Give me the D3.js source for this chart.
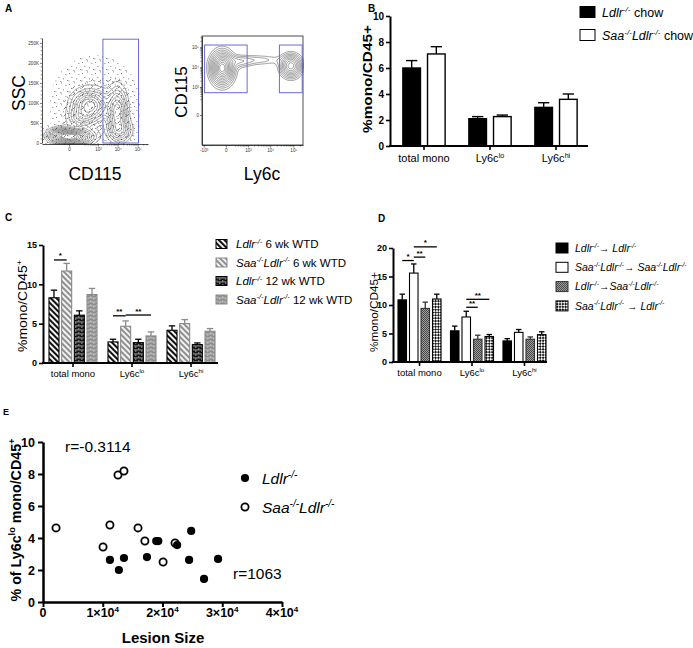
<!DOCTYPE html>
<html><head><meta charset="utf-8">
<script src="https://cdn.jsdelivr.net/npm/d3@7"></script>
<style>
body{margin:0;background:#fff}
svg{display:block;font-family:"Liberation Sans",Arial,Helvetica,sans-serif}
text{white-space:pre}
</style>
</head><body>
<svg id="fig" width="693" height="648"></svg>
<script>
// ---------------- DATA ----------------
const categories = ["total mono", "Ly6c^{lo}", "Ly6c^{hi}"];

// Panel B
const bSeries = ["~Ldlr^{-/-}~ chow", "~Saa^{-/-}Ldlr^{-/-}~ chow"];
const bLdlrMean = [6.0, 2.1, 2.97];
const bLdlrSem  = [0.57, 0.16, 0.36];
const bSaaMean  = [7.08, 2.26, 3.59];
const bSaaSem   = [0.56, 0.12, 0.41];
const bTicks = [0, 2, 4, 6, 8, 10];

// Panel C
const cSeries = ["~Ldlr^{-/-}~ 6 wk WTD", "~Saa^{-/-}Ldlr^{-/-}~ 6 wk WTD", "~Ldlr^{-/-}~ 12 wk WTD", "~Saa^{-/-}Ldlr^{-/-}~ 12 wk WTD"];
const cLdlr6Mean  = [8.29, 2.68, 4.16];
const cLdlr6Sem   = [0.97, 0.34, 0.56];
const cSaa6Mean   = [11.69, 4.67, 5.01];
const cSaa6Sem    = [0.97, 0.68, 0.51];
const cLdlr12Mean = [6.08, 2.59, 2.34];
const cLdlr12Sem  = [0.55, 0.43, 0.21];
const cSaa12Mean  = [8.71, 3.44, 4.04];
const cSaa12Sem   = [0.77, 0.51, 0.34];
const cTicks = [0, 5, 10, 15];
const cSigs = [
  {cat: 0, a: 0, b: 1, y: 13.1, label: "*"},
  {cat: 1, a: 0, b: 1, y: 6.0, label: "**"},
  {cat: 1, a: 1, b: 3, y: 6.1, label: "**"}
];

// Panel D
const dSeries = ["~Ldlr^{-/-}\u2192 Ldlr^{-/-}~", "~Saa^{-/-}Ldlr^{-/-}\u2192 Saa^{-/-}Ldlr^{-/-}~", "~Ldlr^{-/-}\u2192Saa^{-/-}Ldlr^{-/-}~", "~Saa^{-/-}Ldlr^{-/-} \u2192 Ldlr^{-/-}~"];
const dS1Mean = [10.9, 5.47, 3.7];
const dS1Sem  = [1.0, 0.83, 0.4];
const dS2Mean = [15.6, 7.9, 5.2];
const dS2Sem  = [1.6, 1.0, 0.5];
const dS3Mean = [9.4, 4.0, 4.0];
const dS3Sem  = [1.1, 0.7, 0.4];
const dS4Mean = [11.05, 4.47, 4.8];
const dS4Sem  = [0.85, 0.35, 0.5];
const dTicks = [0, 5, 10, 15, 20];
const dSigs = [
  {cat: 0, a: 0, b: 1, y: 17.8, label: "*"},
  {cat: 0, a: 1, b: 2, y: 18.4, label: "**"},
  {cat: 0, a: 1, b: 3, y: 20.2, label: "*"},
  {cat: 1, a: 1, b: 2, y: 9.6, label: "**"},
  {cat: 1, a: 1, b: 3, y: 11.0, label: "**"}
];

// Panel E (lesion size vs % Ly6c-lo)
const eLdlrX = [11200, 12700, 13550, 17400, 18950, 19300, 22450, 24450, 24800, 26950, 29300];
const eLdlrY = [2.63, 2.0, 2.75, 2.81, 3.81, 3.81, 3.56, 2.63, 4.44, 1.44, 2.69];
const eSaaX  = [2180, 10050, 11200, 12550, 13550, 15900, 17050, 20100, 22100];
const eSaaY  = [4.63, 3.44, 4.81, 7.94, 8.19, 4.63, 3.81, 2.5, 3.69];
const eXTicks = [0, 10000, 20000, 30000, 40000];
const eYTicks = [0, 2, 4, 6, 8, 10];
const eLegend = ["~Ldlr^{-/-}~", "~Saa^{-/-}Ldlr^{-/-}~"];
const eR = ["r=-0.3114", "r=1063"];

// Panel A (flow cytometry: population clusters in plot-unit coordinates)
const flowLeftClusters = [
  {u: 0.283, v: 0.068, su: 0.10, sv: 0.042, w: 1.0},
  {u: 0.16,  v: 0.085, su: 0.06, sv: 0.035, w: 0.35},
  {u: 0.45,  v: 0.36,  su: 0.085, sv: 0.075, w: 0.58},
  {u: 0.37,  v: 0.25,  su: 0.07, sv: 0.05, w: 0.22},
  {u: 0.71,  v: 0.30,  su: 0.05, sv: 0.12, w: 0.5},
  {u: 0.74,  v: 0.13,  su: 0.06, sv: 0.06, w: 0.28},
  {u: 0.50,  v: 0.38,  su: 0.30, sv: 0.32, w: 0.05}
];
const flowRightClusters = [
  {u: 0.20, v: 0.705, su: 0.065, sv: 0.085, w: 1.0},
  {u: 0.88, v: 0.725, su: 0.06, sv: 0.06, w: 0.72},
  {u: 0.53, v: 0.78,  su: 0.18, sv: 0.03, w: 0.13},
  {u: 0.37, v: 0.76,  su: 0.08, sv: 0.035, w: 0.13}
];
const flowLevels = [0.06, 0.1, 0.15, 0.21, 0.28, 0.36, 0.45, 0.55, 0.65, 0.75, 0.85, 0.93];
const sscTicks = [0, 50000, 100000, 150000, 200000, 250000];
const cd115Ticks = [0, 1000, 10000, 100000];
const ly6cTicks = [-1000, 0, 1000, 10000, 100000];
const cd115RTicks = [0, 1000, 10000, 100000];

// ---------------- HELPERS ----------------
const svg = d3.select("#fig");
const FONT = '"Liberation Sans",Arial,Helvetica,sans-serif';

// markup: ^{..} superscript, ~ toggles italic
function rich(text, str, fs) {
  const parts = str.split(/(\^\{[^}]*\}|~)/).filter(s => s.length);
  let shifted = false, ital = false;
  parts.forEach(p => {
    if (p === "~") { ital = !ital; return; }
    const sup = p.startsWith("^{");
    const t = sup ? p.slice(2, -1) : p;
    const ts = text.append("tspan").text(t).attr("font-style", ital ? "italic" : "normal");
    if (sup) {
      ts.attr("font-size", fs * 0.65);
      if (!shifted) ts.attr("dy", -fs * 0.4);
      shifted = true;
    } else {
      ts.attr("font-size", fs);
      if (shifted) { ts.attr("dy", fs * 0.4); shifted = false; }
    }
  });
  return text;
}
function supFmt(v) {
  if (v === 0) return "0";
  const e = Math.round(Math.log10(Math.abs(v)));
  const s = {3: "\u00b3", 4: "\u2074", 5: "\u2075"}[e];
  return (v < 0 ? "-" : "") + "10" + s;
}

// ---------------- PATTERNS ----------------
const defs = svg.append("defs");
function stripe(id, bg, fg, w) {
  const p = defs.append("pattern").attr("id", id).attr("patternUnits", "userSpaceOnUse")
    .attr("width", 4).attr("height", 4).attr("patternTransform", "rotate(-45)");
  p.append("rect").attr("width", 4).attr("height", 4).attr("fill", bg);
  p.append("rect").attr("width", w).attr("height", 4).attr("fill", fg);
}
stripe("stripeDark", "#fff", "#111", 2.1);
stripe("stripeGray", "#f2f2f2", "#8a8a8a", 1.9);
function brick(id, bg, fg) {
  const p = defs.append("pattern").attr("id", id).attr("patternUnits", "userSpaceOnUse")
    .attr("width", 6).attr("height", 4);
  p.append("rect").attr("width", 6).attr("height", 4).attr("fill", bg);
  p.append("rect").attr("x", 0).attr("y", 1.6).attr("width", 6).attr("height", 0.7).attr("fill", fg);
  p.append("rect").attr("x", 0.5).attr("y", 0).attr("width", 0.7).attr("height", 1.6).attr("fill", fg);
  p.append("rect").attr("x", 3.5).attr("y", 2.3).attr("width", 0.7).attr("height", 1.7).attr("fill", fg);
}
brick("brickDark", "#141414", "#cfcfcf");
brick("brickGray", "#8c8c8c", "#d8d8d8");
function stipple(id, w, h, pts) {
  const s = defs.append("pattern").attr("id", id).attr("patternUnits", "userSpaceOnUse")
    .attr("width", w).attr("height", h);
  pts.forEach(([px, py]) =>
    s.append("rect").attr("x", px).attr("y", py).attr("width", 0.8).attr("height", 0.8).attr("fill", "#222"));
}
(function () {
  const p = defs.append("pattern").attr("id", "fineGray").attr("patternUnits", "userSpaceOnUse")
    .attr("width", 2).attr("height", 2);
  p.append("rect").attr("width", 2).attr("height", 2).attr("fill", "#9a9a9a");
  p.append("rect").attr("width", 1).attr("height", 1).attr("fill", "#4a4a4a");
  p.append("rect").attr("x", 1).attr("y", 1).attr("width", 1).attr("height", 1).attr("fill", "#4a4a4a");
  const q = defs.append("pattern").attr("id", "checker").attr("patternUnits", "userSpaceOnUse")
    .attr("width", 4).attr("height", 4).attr("patternTransform", "rotate(45)");
  q.append("rect").attr("width", 4).attr("height", 4).attr("fill", "#fff");
  q.append("rect").attr("width", 2).attr("height", 2).attr("fill", "#111");
  q.append("rect").attr("x", 2).attr("y", 2).attr("width", 2).attr("height", 2).attr("fill", "#111");
})();
stipple("stippleA", 13, 11, [[1, 2], [6, 0.5], [10.5, 3], [3.5, 6], [8, 7.5], [12, 9], [0.5, 9.5], [5.5, 10]]);
stipple("stippleB", 9, 7, [[2.5, 1.2], [7, 2.8], [0.8, 4.6], [5, 5.9], [4, 0.2]]);

// ---------------- PANEL LETTERS ----------------
[["A", 5, 12, 10], ["B", 368, 12, 10], ["C", 5, 221, 10], ["D", 378, 222, 10], ["E", 3, 415, 9]]
  .forEach(([t, x, y, fs]) => svg.append("text").attr("x", x).attr("y", y).attr("font-size", fs)
    .attr("font-weight", "bold").text(t));

// ---------------- BAR PANEL ----------------
function barPanel(o) {
  const g = svg.append("g");
  const x0 = d3.scaleBand().domain(categories).range(o.xRange).paddingInner(o.pi).paddingOuter(o.po);
  const x1 = d3.scaleBand().domain(o.series).range([0, x0.bandwidth()]).paddingInner(o.pi1).paddingOuter(o.po1);
  const y = d3.scaleLinear().domain(o.yDomain).range(o.yRange);
  o.series.forEach((s, si) => {
    const means = o.means[si], sems = o.sems[si];
    categories.forEach((c, ci) => {
      const bx = x0(c) + x1(s), bw = x1.bandwidth(), cx = bx + bw / 2;
      const top = y(means[ci] + sems[ci]);
      g.append("line").attr("x1", cx).attr("x2", cx).attr("y1", y(means[ci])).attr("y2", top)
        .attr("stroke", o.strokes[si]).attr("stroke-width", o.ew);
      g.append("line").attr("x1", cx - bw * 0.32).attr("x2", cx + bw * 0.32).attr("y1", top).attr("y2", top)
        .attr("stroke", o.strokes[si]).attr("stroke-width", o.ew);
      g.append("rect").attr("x", bx).attr("y", y(means[ci])).attr("width", bw)
        .attr("height", y(0) - y(means[ci])).attr("fill", o.fills[si])
        .attr("stroke", o.strokes[si]).attr("stroke-width", o.bsw);
    });
  });
  const ya = g.append("g").attr("transform", `translate(${o.xAxis[0]},0)`)
    .call(d3.axisLeft(y).tickValues(o.ticks).tickSize(4).tickSizeOuter(0).tickPadding(2));
  ya.select(".domain").attr("stroke-width", o.aw).attr("stroke", "#000");
  ya.selectAll(".tick line").attr("stroke-width", o.aw * 0.8);
  ya.selectAll(".tick text").attr("font-size", o.tfs).attr("font-weight", "bold")
    .attr("font-family", FONT).attr("fill", "#000");
  g.append("line").attr("x1", o.xAxis[0] - o.aw / 2).attr("x2", o.xAxis[1]).attr("y1", y(0)).attr("y2", y(0))
    .attr("stroke", "#000").attr("stroke-width", o.aw);
  categories.forEach(c => {
    const cx = x0(c) + x0.bandwidth() / 2;
    g.append("line").attr("x1", cx).attr("x2", cx).attr("y1", y(0)).attr("y2", y(0) + 4)
      .attr("stroke", "#000").attr("stroke-width", o.aw * 0.8);
    rich(g.append("text").attr("x", cx).attr("y", y(0) + o.xlOff).attr("text-anchor", "middle"), c, o.xfs);
  });
  const yl = g.append("text").attr("transform", `translate(${o.ylPos[0]},${o.ylPos[1]}) rotate(-90)`)
    .attr("text-anchor", "middle").attr("font-weight", o.ylBold ? "bold" : "normal")
    .attr("textLength", o.ylLen).attr("lengthAdjust", "spacingAndGlyphs");
  rich(yl, o.ylabel, o.ylfs);
  (o.sigs || []).forEach(sg => {
    const c = categories[sg.cat];
    const xa = x0(c) + x1(o.series[sg.a]) + x1.bandwidth() / 2;
    const xb = x0(c) + x1(o.series[sg.b]) + x1.bandwidth() / 2;
    g.append("line").attr("x1", xa).attr("x2", xb).attr("y1", y(sg.y)).attr("y2", y(sg.y))
      .attr("stroke", "#000").attr("stroke-width", 1.3);
    g.append("text").attr("x", (xa + xb) / 2).attr("y", y(sg.y) - 1.5).attr("text-anchor", "middle")
      .attr("font-size", 8).attr("font-weight", "bold").text(sg.label);
  });
  o.series.forEach((s, si) => {
    const ly = o.leg.y0 + si * o.leg.dy;
    g.append("rect").attr("x", o.leg.x).attr("y", ly - o.leg.h / 2).attr("width", o.leg.w).attr("height", o.leg.h)
      .attr("fill", o.fills[si]).attr("stroke", o.strokes[si]).attr("stroke-width", 1);
    const t = g.append("text").attr("x", o.leg.tx).attr("y", ly + o.leg.fs * 0.36);
    rich(t, s, o.leg.fs);
  });
}

barPanel({
  series: bSeries, means: [bLdlrMean, bSaaMean], sems: [bLdlrSem, bSaaSem],
  fills: ["#000", "#fff"], strokes: ["#000", "#000"],
  xRange: [390, 590], pi: 0.3, po: 0.165, pi1: 0.286, po1: 0.08,
  yDomain: [0, 10], yRange: [146, 16], ticks: bTicks, xAxis: [390, 588],
  aw: 2, bsw: 1.4, ew: 1.4, tfs: 10, xfs: 11, xlOff: 16,
  ylabel: "%mono/CD45+", ylfs: 12, ylBold: true, ylPos: [372, 79], ylLen: 108,
  leg: {x: 580, w: 15, h: 11, y0: 12, dy: 23, tx: 602, fs: 12.5}
});

barPanel({
  series: cSeries, means: [cLdlr6Mean, cSaa6Mean, cLdlr12Mean, cSaa12Mean],
  sems: [cLdlr6Sem, cSaa6Sem, cLdlr12Sem, cSaa12Sem],
  fills: ["url(#stripeDark)", "url(#stripeGray)", "url(#brickDark)", "url(#brickGray)"],
  strokes: ["#000", "#8a8a8a", "#000", "#8a8a8a"],
  xRange: [44.5, 219.5], pi: 0.186, po: 0.076, pi1: 0.21, po1: 0,
  yDomain: [0, 15], yRange: [363, 245], ticks: cTicks, xAxis: [43, 218],
  aw: 2, bsw: 1.1, ew: 1.3, tfs: 9, xfs: 9.5, xlOff: 14,
  ylabel: "%mono/CD45^{+}", ylfs: 12, ylBold: false, ylPos: [27, 306], ylLen: 92,
  sigs: cSigs,
  leg: {x: 216, w: 11, h: 9, y0: 244, dy: 18.5, tx: 236, fs: 11.5}
});

barPanel({
  series: dSeries, means: [dS1Mean, dS2Mean, dS3Mean, dS4Mean],
  sems: [dS1Sem, dS2Sem, dS3Sem, dS4Sem],
  fills: ["#000", "#fff", "url(#fineGray)", "url(#checker)"],
  strokes: ["#000", "#000", "#333", "#000"],
  xRange: [395, 549], pi: 0.18, po: 0.057, pi1: 0.26, po1: 0,
  yDomain: [0, 20], yRange: [362, 248], ticks: dTicks, xAxis: [393, 547],
  aw: 2, bsw: 1.1, ew: 1.3, tfs: 9, xfs: 9.5, xlOff: 14,
  ylabel: "%mono/CD45+", ylfs: 11, ylBold: false, ylPos: [378, 312], ylLen: 80,
  sigs: dSigs,
  leg: {x: 556, w: 12, h: 10, y0: 248, dy: 19.3, tx: 575, fs: 10.5}
});

// ---------------- PANEL E ----------------
(function () {
  const g = svg.append("g");
  const x = d3.scaleLinear().domain([0, 40000]).range([43, 282]);
  const y = d3.scaleLinear().domain([0, 10]).range([602, 442]);
  const ya = g.append("g").attr("transform", "translate(43,0)")
    .call(d3.axisLeft(y).tickValues(eYTicks).tickSize(5).tickSizeOuter(0).tickPadding(3));
  const xa = g.append("g").attr("transform", "translate(0,602)")
    .call(d3.axisBottom(x).tickValues(eXTicks).tickSize(5).tickSizeOuter(0).tickFormat(""));
  [ya, xa].forEach(a => {
    a.select(".domain").attr("stroke-width", 2.5).attr("stroke", "#000");
    a.selectAll(".tick line").attr("stroke-width", 2);
  });
  ya.selectAll(".tick text").attr("font-size", 12.5).attr("font-weight", "bold").attr("font-family", FONT).attr("fill", "#000");
  eXTicks.forEach(v => {
    const t = g.append("text").attr("x", x(v)).attr("y", 617).attr("text-anchor", "middle").attr("font-weight", "bold");
    if (v === 0) rich(t, "0", 12.5);
    else rich(t, (v / 10000) + "\u00d710^{4}", 12.5);
  });
  g.append("text").attr("x", 163).attr("y", 643).attr("text-anchor", "middle").attr("font-weight", "bold")
    .attr("font-size", 15).text("Lesion Size");
  const yl = g.append("text").attr("transform", "translate(21,520) rotate(-90)").attr("text-anchor", "middle")
    .attr("font-weight", "bold").attr("textLength", 163).attr("lengthAdjust", "spacingAndGlyphs");
  rich(yl, "% of Ly6c^{lo} mono/CD45^{+}", 14);
  eSaaX.forEach((v, i) => g.append("circle").attr("cx", x(v)).attr("cy", y(eSaaY[i])).attr("r", 3.6)
    .attr("fill", "#fff").attr("stroke", "#000").attr("stroke-width", 1.8));
  eLdlrX.forEach((v, i) => g.append("circle").attr("cx", x(v)).attr("cy", y(eLdlrY[i])).attr("r", 4.1)
    .attr("fill", "#000"));
  g.append("circle").attr("cx", 245).attr("cy", 478).attr("r", 4.1).attr("fill", "#000");
  g.append("circle").attr("cx", 245).attr("cy", 507).attr("r", 3.6).attr("fill", "#fff").attr("stroke", "#000").attr("stroke-width", 1.8);
  rich(g.append("text").attr("x", 262).attr("y", 484), eLegend[0], 15.5);
  rich(g.append("text").attr("x", 262).attr("y", 513), eLegend[1], 15.5);
  g.append("text").attr("x", 65).attr("y", 452).attr("font-size", 15.5).text(eR[0]);
  g.append("text").attr("x", 233).attr("y", 579).attr("font-size", 15.5).text(eR[1]);
})();

// ---------------- PANEL A (flow plots) ----------------
function flowDensity(g, box, clusters, stippleLevels, stroke) {
  const w = Math.round(box.x1 - box.x0), h = Math.round(box.yb - box.yt);
  const vals = new Float64Array(w * h);
  for (let j = 0; j < h; j++) for (let i = 0; i < w; i++) {
    const u = (i + 0.5) / w, v = 1 - (j + 0.5) / h;
    let s = 0;
    for (const c of clusters) {
      const dx = (u - c.u) / c.su, dy = (v - c.v) / c.sv;
      s += c.w * Math.exp(-0.5 * (dx * dx + dy * dy));
    }
    vals[j * w + i] = s;
  }
  const gg = g.append("g").attr("transform", `translate(${box.x0},${box.yt})`);
  const path = d3.geoPath();
  if (stippleLevels) {
    const st = d3.contours().size([w, h]).thresholds(stippleLevels)(vals);
    gg.selectAll("path.st").data(st).join("path").attr("class", "st").attr("d", path)
      .attr("fill", (d, i) => i === 0 ? "url(#stippleA)" : "url(#stippleB)").attr("opacity", 0.85);
  }
  const cs = d3.contours().size([w, h]).thresholds(flowLevels)(vals);
  gg.selectAll("path.cl").data(cs).join("path").attr("class", "cl").attr("d", path)
    .attr("fill", "none").attr("stroke", stroke).attr("stroke-width", 0.55);
}

(function () {
  const g = svg.append("g");
  const boxL = {x0: 42, x1: 148, yt: 38, yb: 144};
  const yS = d3.scaleLinear().domain([0, 262000]).range([143, 38]);
  const xC = d3.scaleSymlog().constant(37).domain([-784, 328000]).range([42, 148]);
  flowDensity(g, boxL, flowLeftClusters, [0.018, 0.04], "#555");
  const ayL = g.append("g").attr("transform", "translate(42,0)")
    .call(d3.axisLeft(yS).tickValues(sscTicks).tickSize(2).tickSizeOuter(0).tickPadding(1)
      .tickFormat(d => d === 0 ? "0" : (d / 1000) + "K"));
  const axL = g.append("g").attr("transform", "translate(0,144)")
    .call(d3.axisBottom(xC).tickValues(cd115Ticks).tickSize(2.5).tickSizeOuter(0).tickPadding(1).tickFormat(supFmt));
  const boxR = {x0: 202, x1: 303, yt: 36, yb: 145};
  const xL = d3.scaleSymlog().constant(124.5).domain([-1200, 260000]).range([202, 303]);
  const yC = d3.scaleSymlog().constant(41.5).domain([-1266, 367000]).range([145, 36]);
  flowDensity(g, boxR, flowRightClusters, null, "#4a4a4a");
  g.append("rect").attr("x", 202).attr("y", 36).attr("width", 101).attr("height", 109)
    .attr("fill", "none").attr("stroke", "#222").attr("stroke-width", 0.8);
  const ayR = g.append("g").attr("transform", "translate(202,0)")
    .call(d3.axisLeft(yC).tickValues(cd115RTicks).tickSize(2).tickSizeOuter(0).tickPadding(1).tickFormat(supFmt));
  const axR = g.append("g").attr("transform", "translate(0,145)")
    .call(d3.axisBottom(xL).tickValues(ly6cTicks).tickSize(2.5).tickSizeOuter(0).tickPadding(1).tickFormat(supFmt));
  [ayL, axL, ayR, axR].forEach(a => {
    a.select(".domain").attr("stroke", "#222").attr("stroke-width", 0.8);
    a.selectAll(".tick line").attr("stroke", "#222").attr("stroke-width", 0.6);
    a.selectAll(".tick text").attr("font-size", 4.6).attr("font-family", FONT).attr("fill", "#333");
  });
  const minorLog = [];
  [100, 1000, 10000, 100000].forEach(dec => [2, 3, 4, 5, 6, 7, 8, 9].forEach(m => minorLog.push(dec * m)));
  minorLog.filter(v => v < 328000 && xC(v) > 70).forEach(v =>
    g.append("line").attr("x1", xC(v)).attr("x2", xC(v)).attr("y1", 144).attr("y2", 145.6).attr("stroke", "#222").attr("stroke-width", 0.5));
  minorLog.filter(v => v < 260000 && xL(v) > 228).forEach(v =>
    g.append("line").attr("x1", xL(v)).attr("x2", xL(v)).attr("y1", 145).attr("y2", 146.6).attr("stroke", "#222").attr("stroke-width", 0.5));
  minorLog.filter(v => v < 367000 && yC(v) < 110).forEach(v =>
    g.append("line").attr("x1", 200.4).attr("x2", 202).attr("y1", yC(v)).attr("y2", yC(v)).attr("stroke", "#222").attr("stroke-width", 0.5));
  d3.range(10000, 262000, 10000).filter(v => v % 50000).forEach(v =>
    g.append("line").attr("x1", 40.6).attr("x2", 42).attr("y1", yS(v)).attr("y2", yS(v)).attr("stroke", "#222").attr("stroke-width", 0.5));
  const gate = "#6b6bd6";
  g.append("rect").attr("x", xC(1800)).attr("y", yS(259000)).attr("width", xC(110000) - xC(1800))
    .attr("height", yS(0) - yS(259000)).attr("fill", "none").attr("stroke", gate).attr("stroke-width", 1);
  g.append("rect").attr("x", xL(-900)).attr("y", yC(130000)).attr("width", xL(900) - xL(-900))
    .attr("height", yC(500) - yC(130000)).attr("fill", "none").attr("stroke", gate).attr("stroke-width", 1);
  g.append("rect").attr("x", xL(25000)).attr("y", yC(130000)).attr("width", xL(240000) - xL(25000))
    .attr("height", yC(500) - yC(130000)).attr("fill", "none").attr("stroke", gate).attr("stroke-width", 1);
  g.append("text").attr("x", 95).attr("y", 180).attr("text-anchor", "middle").attr("font-size", 17.5).text("CD115");
  g.append("text").attr("x", 262).attr("y", 180).attr("text-anchor", "middle").attr("font-size", 17.5).text("Ly6c");
  g.append("text").attr("transform", "translate(25,93) rotate(-90)").attr("text-anchor", "middle").attr("font-size", 17.5).text("SSC");
  g.append("text").attr("transform", "translate(187,92) rotate(-90)").attr("text-anchor", "middle").attr("font-size", 17).text("CD115");
})();
</script>
</body></html>
